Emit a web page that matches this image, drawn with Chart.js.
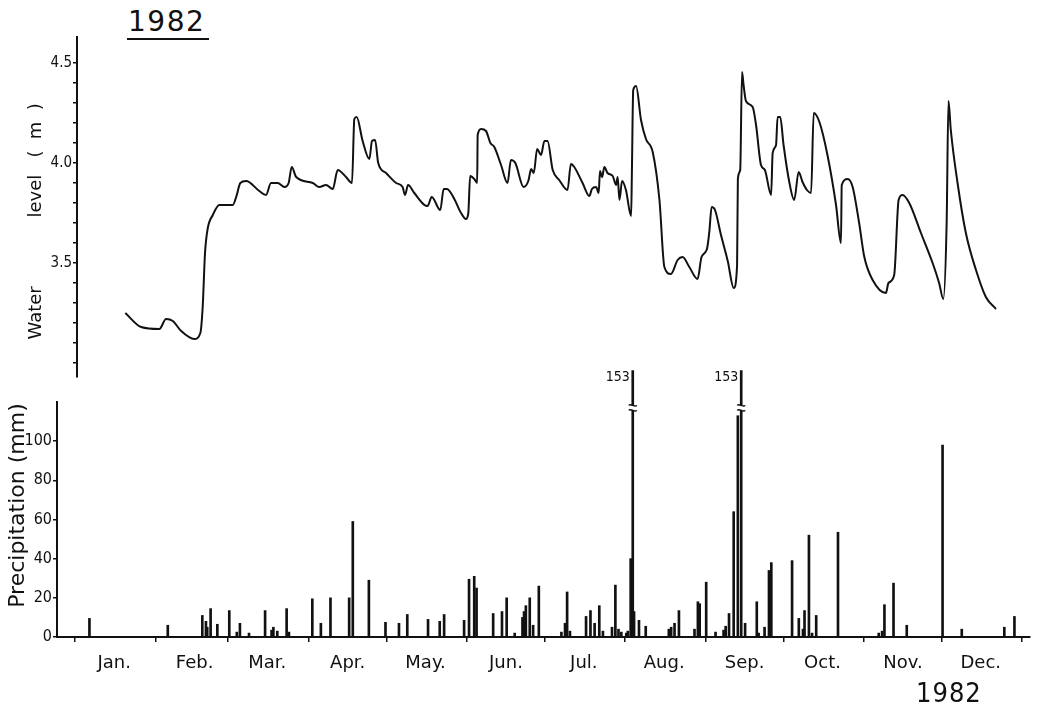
<!DOCTYPE html>
<html>
<head>
<meta charset="utf-8">
<script src="https://cdn.jsdelivr.net/npm/chart.js@4.4.0/dist/chart.umd.min.js"></script>
<style>
body { margin: 0; width: 1037px; height: 711px; background: #fff; position: relative; overflow: hidden; font-family: 'DejaVu Sans', sans-serif; color: #111; }
canvas { position: absolute; left: 0; }
#level { top: 0; }
#rain { top: 355px; }
.year { position: absolute; line-height: 32px; }
#yearTop { left: 127px; top: 6px; font-size: 28px; letter-spacing: 1.5px; border-bottom: 2px solid #111; padding: 0 4px 0 1px; }
#yearBottom { left: 916px; top: 677px; font-size: 27px; font-family: 'DejaVu Sans Condensed', 'DejaVu Sans', sans-serif; letter-spacing: 1px; }
</style>
</head>
<body>
<div class="year" id="yearTop">1982</div>
<canvas id="level" width="1037" height="390"></canvas>
<canvas id="rain" width="1037" height="356"></canvas>
<div class="year" id="yearBottom">1982</div>
<script>
// day of year (0 = 1 Jan) for every reading
const levelDays = [19.6, 25.7, 32.7, 35.3, 37.9, 41.1, 46.2, 48.5, 49.4, 50.3, 51.3, 53.3, 55.8, 61.0, 62.3, 63.9, 66.1,
    71.2, 73.8, 75.7, 78.3, 80.9, 82.5, 83.7, 85.4, 91.8, 94.3, 96.9, 99.5, 101.4, 104.6, 106.9, 107.8, 108.7, 111.0,
    113.6, 114.6, 115.8, 117.0, 120.0, 123.9, 126.4, 127.3, 128.5, 130.9, 134.8, 136.0, 137.6, 140.9, 142.2, 143.5,
    146.3, 148.9, 150.8, 151.7, 152.4, 154.0, 155.1, 155.3, 156.6, 158.5, 160.2, 161.7, 164.3, 166.8, 168.1, 169.8,
    173.0, 174.8, 175.9, 176.9, 178.2, 179.7, 181.0, 182.2, 184.2, 186.7, 189.9, 191.2, 192.5, 195.7, 198.3, 199.3,
    200.9, 201.9, 202.4, 203.2, 204.1, 205.3, 207.3, 208.6, 209.2, 209.9, 210.9, 212.4, 214.4, 214.7, 215.2, 216.3,
    218.2, 220.1, 222.7, 225.3, 227.2, 229.7, 232.3, 234.2, 236.8, 240.0, 241.5, 243.6, 244.5, 245.4, 246.7, 249.0,
    251.6, 253.9, 255.2, 255.5, 256.4, 257.1, 257.7, 258.6, 261.2, 262.5, 264.4, 265.9, 268.3, 268.9, 270.2, 270.8,
    271.8, 273.1, 275.3, 277.2, 278.9, 280.4, 282.1, 283.7, 284.7, 286.9, 290.0, 293.3, 295.2, 295.5, 297.8, 299.7,
    302.2, 304.2, 307.4, 312.5, 313.5, 315.7, 317.4, 318.9, 321.5, 326.0, 330.5, 333.0, 334.6, 335.9, 336.6, 337.5,
    340.1, 343.3, 347.2, 351.0, 354.9];
// water level (m)
const levelValues = [3.25, 3.18, 3.17, 3.22, 3.21, 3.16, 3.12, 3.15, 3.28, 3.55, 3.67, 3.74, 3.79, 3.79, 3.83, 3.90, 3.91,
    3.86, 3.84, 3.90, 3.90, 3.88, 3.90, 3.98, 3.93, 3.90, 3.88, 3.89, 3.87, 3.965, 3.93, 3.90, 4.22, 4.23, 4.11,
    4.02, 4.11, 4.115, 4.00, 3.95, 3.90, 3.88, 3.84, 3.89, 3.85, 3.79, 3.785, 3.83, 3.765, 3.87, 3.87,
    3.82, 3.75, 3.72, 3.75, 3.935, 3.92, 3.90, 4.14, 4.17, 4.16, 4.10, 4.08, 3.99, 3.90, 4.015, 4.00,
    3.88, 3.91, 3.97, 3.95, 4.07, 4.04, 4.11, 4.11, 3.965, 3.915, 3.865, 3.995, 3.98, 3.90, 3.835, 3.87,
    3.88, 3.85, 3.96, 3.93, 3.98, 3.95, 3.935, 3.89, 3.93, 3.815, 3.91, 3.865, 3.735, 3.965, 4.365, 4.385,
    4.215, 4.12, 4.055, 3.815, 3.48, 3.445, 3.515, 3.53, 3.48, 3.42, 3.53, 3.57, 3.655, 3.78, 3.765, 3.64,
    3.51, 3.375, 3.49, 3.92, 3.965, 4.455, 4.39, 4.31, 4.28, 4.19, 3.99, 3.965, 3.84, 4.05, 4.09, 4.23,
    4.23, 4.09, 3.905, 3.815, 3.955, 3.905, 3.865, 3.85, 4.25, 4.205, 4.04, 3.79, 3.60, 3.89, 3.92, 3.88,
    3.70, 3.53, 3.415, 3.35, 3.40, 3.44, 3.815, 3.84, 3.80, 3.65, 3.50, 3.40, 3.32, 3.70, 4.31, 4.165,
    3.90, 3.65, 3.465, 3.33, 3.27];

// daily precipitation (mm)
const rainDays = [5.5, 35.7, 49.0, 50.4, 50.9, 52.2, 54.8, 59.4, 62.3, 63.5, 67.0, 73.2, 75.7, 76.4, 77.9, 81.5, 82.4,
    91.4, 94.7, 98.4, 105.6, 107.0, 113.2, 119.6, 124.8, 128.0, 136.0, 140.5, 142.2, 149.9, 151.8, 153.8, 154.7,
    161.1, 164.5, 166.3, 169.4, 172.4, 173.0, 173.7, 175.2, 176.5, 178.7, 187.4, 188.8, 189.6, 190.7, 196.9, 198.6,
    200.2, 202.0, 203.4, 206.9, 208.2, 209.4, 210.5, 212.4, 213.0, 214.1, 214.9, 215.4, 217.3, 219.9, 228.8, 229.7,
    231.0, 232.7, 238.7, 240.0, 240.7, 243.2, 246.8, 249.9, 250.7, 252.0, 253.8, 255.4, 256.7, 258.2, 262.7, 263.4,
    265.7, 267.4, 268.3, 276.3, 278.9, 280.5, 281.1, 282.8, 284.0, 285.6, 294.0, 309.7, 311.0, 311.9, 315.4, 320.5,
    334.3, 341.7, 358.1, 362.0];
const rainValues = [9.5, 6, 11, 8, 5, 14.5, 6.5, 13.5, 2.5, 7, 2, 13.5, 3.5, 5, 3, 14.5, 2.5,
    19.5, 7, 20, 20, 59, 29, 7.5, 7, 11.5, 9, 8, 11.5, 8.5, 29.5, 31, 25,
    12, 13, 20, 2, 10, 13, 16, 20, 6, 26, 2.5, 7, 23, 3, 10.5, 13.5,
    7, 16, 3, 5, 26.5, 4, 2.5, 2, 3, 40, 153, 13, 8.5, 5.5, 4, 5,
    7, 13.5, 4, 18, 17, 28, 2.5, 3.5, 5.5, 12, 64, 113, 153, 7, 18, 2,
    5, 34, 38, 39, 9.5, 4, 13.5, 52, 2, 11, 53.5, 2, 3, 16.5, 27.5, 6,
    98, 4, 5, 10.5];

const monthLabels = ["Jan.", "Feb.", "Mar.", "Apr.", "May.", "Jun.", "Jul.", "Aug.", "Sep.", "Oct.", "Nov.", "Dec."];
const monthStarts = [0, 31, 59, 90, 120, 151, 181, 212, 243, 273, 304, 334, 365];
const levelTicks = [3.0, 3.1, 3.2, 3.3, 3.4, 3.5, 3.6, 3.7, 3.8, 3.9, 4.0, 4.1, 4.2, 4.3, 4.4, 4.5];
const levelLabelled = [3.5, 4.0, 4.5];
const rainTicks = [0, 20, 40, 60, 80, 100];

const rainMax = 120;      // top of the precipitation axis
const rainBreakAt = 136;  // drawn length of the broken (off-scale) bars
const rainBreakMark = 117;

const ink = "#111";
Chart.defaults.font.family = "'DejaVu Sans Condensed', 'DejaVu Sans', sans-serif";
Chart.defaults.color = ink;

// upper panel: water level
new Chart(document.getElementById("level"), {
    type: "line",
    data: {
        datasets: [{
            data: levelDays.map((d, i) => ({ x: d, y: levelValues[i] })),
            borderColor: ink,
            borderWidth: 2,
            pointRadius: 0,
            fill: false,
            cubicInterpolationMode: "monotone",
            borderJoinStyle: "round"
        }]
    },
    options: {
        responsive: false,
        animation: false,
        layout: { padding: { top: 37, bottom: 13, right: 7, left: 0 } },
        plugins: { legend: { display: false }, tooltip: { enabled: false } },
        scales: {
            x: { type: "linear", display: false, min: 1, max: 368 },
            y: {
                min: 2.93,
                max: 4.63,
                afterBuildTicks: scale => { scale.ticks = levelTicks.map(v => ({ value: v })); },
                afterFit: scale => { scale.width = 77; },
                ticks: {
                    font: { size: 15 },
                    padding: 1,
                    callback: v => levelLabelled.includes(Math.round(v * 10) / 10) ? v.toFixed(1) : ""
                },
                grid: { drawOnChartArea: false, tickLength: 4, color: ink, lineWidth: 1.5 },
                border: { color: ink, width: 2 },
                title: {
                    display: true,
                    text: "Water            level   (  m  )     ",
                    font: { size: 18, family: "'DejaVu Sans', sans-serif" },
                    padding: { top: 26, bottom: 0 }
                }
            }
        }
    }
});

// labels and break marks for bars above the axis
const breakMarks = {
    id: "breakMarks",
    afterDatasetsDraw(chart) {
        const ctx = chart.ctx;
        const meta = chart.getDatasetMeta(0);
        const yScale = chart.scales.y;
        rainValues.forEach((v, i) => {
            if (v <= rainMax) return;
            const bar = meta.data[i];
            const yb = yScale.getPixelForValue(rainBreakMark);
            ctx.save();
            ctx.fillStyle = "#fff";
            ctx.fillRect(bar.x - 4, yb - 2, 8, 4);
            ctx.strokeStyle = ink;
            ctx.lineWidth = 1.3;
            [-2.5, 2.5].forEach(dy => {
                ctx.beginPath();
                ctx.moveTo(bar.x - 4, yb + dy);
                ctx.bezierCurveTo(bar.x - 2, yb + dy - 2.5, bar.x + 2, yb + dy + 2.5, bar.x + 4, yb + dy);
                ctx.stroke();
            });
            ctx.fillStyle = ink;
            ctx.font = "14px 'DejaVu Sans Condensed', 'DejaVu Sans', sans-serif";
            ctx.textAlign = "right";
            ctx.textBaseline = "middle";
            ctx.fillText(String(v), bar.x - 3, bar.y + 7);
            ctx.restore();
        });
    }
};

// lower panel: precipitation
new Chart(document.getElementById("rain"), {
    type: "bar",
    data: {
        datasets: [{
            data: rainDays.map((d, i) => ({ x: d, y: Math.min(rainValues[i], rainBreakAt) })),
            backgroundColor: ink,
            borderWidth: 0,
            barThickness: 2,
            clip: false
        }]
    },
    plugins: [breakMarks],
    options: {
        responsive: false,
        animation: false,
        layout: { padding: { top: 47, bottom: 0, right: 7, left: 0 } },
        plugins: { legend: { display: false }, tooltip: { enabled: false } },
        scales: {
            x: {
                type: "linear",
                min: -7,
                max: 368,
                offset: false,
                afterBuildTicks: scale => { scale.ticks = monthStarts.map(v => ({ value: v })); },
                afterFit: scale => { scale.height = 74; },
                ticks: {
                    autoSkip: false,
                    maxRotation: 0,
                    labelOffset: 39,
                    padding: 11,
                    font: { size: 18, family: "'DejaVu Sans', sans-serif" },
                    callback: (v, i) => monthLabels[i] || ""
                },
                grid: { offset: false, drawOnChartArea: false, tickLength: 5, color: ink, lineWidth: 1.5 },
                border: { color: ink, width: 2 }
            },
            y: {
                min: 0,
                max: rainMax,
                afterBuildTicks: scale => { scale.ticks = rainTicks.map(v => ({ value: v })); },
                afterFit: scale => { scale.width = 57; },
                ticks: { font: { size: 16 }, padding: 1 },
                grid: { drawOnChartArea: false, tickLength: 4, color: ink, lineWidth: 1.5 },
                border: { color: ink, width: 2 },
                title: {
                    display: true,
                    text: "    Precipitation (mm)",
                    font: { size: 22, family: "'DejaVu Sans', sans-serif" },
                    padding: { top: 5, bottom: 0 }
                }
            }
        }
    }
});
</script>
</body>
</html>
